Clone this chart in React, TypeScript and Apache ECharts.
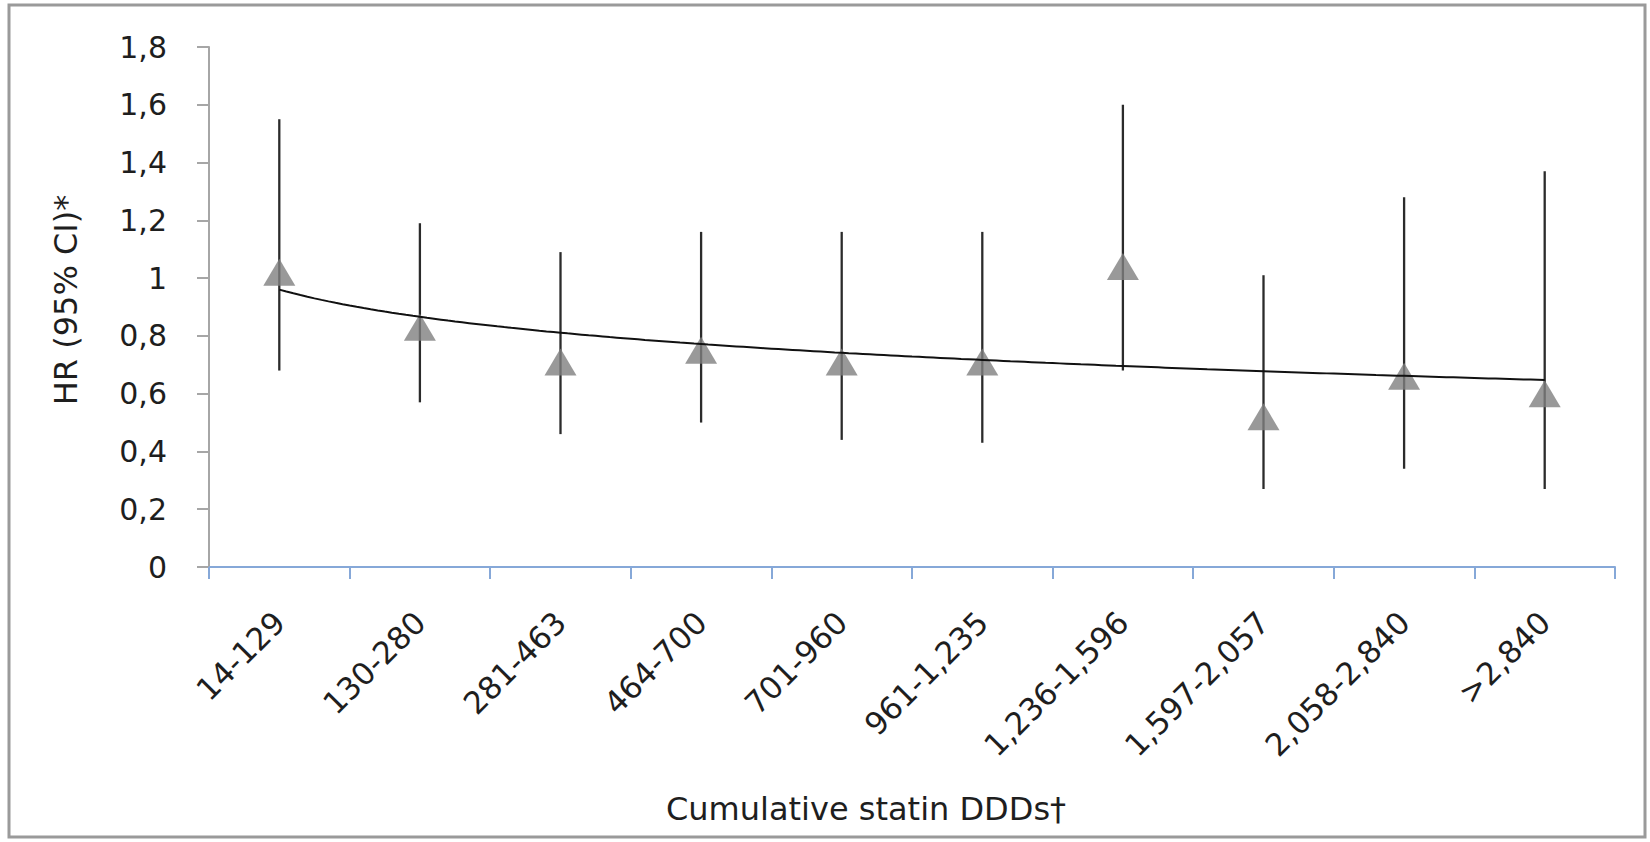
import React, { useEffect, useRef } from "react";
import * as echarts from "echarts";

const categories = [
  "14-129",
  "130-280",
  "281-463",
  "464-700",
  "701-960",
  "961-1,235",
  "1,236-1,596",
  "1,597-2,057",
  "2,058-2,840",
  ">2,840",
];
const hr = [1.02, 0.83, 0.71, 0.75, 0.71, 0.71, 1.04, 0.52, 0.66, 0.6];
const ciLow = [0.68, 0.57, 0.46, 0.5, 0.44, 0.43, 0.68, 0.27, 0.34, 0.27];
const ciHigh = [1.55, 1.19, 1.09, 1.16, 1.16, 1.16, 1.6, 1.01, 1.28, 1.37];
const yTickLabels = ["0", "0,2", "0,4", "0,6", "0,8", "1", "1,2", "1,4", "1,6", "1,8"];

const xTitle = "Cumulative statin DDDs\u2020";
const yTitle = "HR (95% CI)*";

// Logarithmic trendline (as Excel computes it) fitted to the HR values
function logFit(values: number[]) {
  const n = values.length;
  const lx = values.map((_, i) => Math.log(i + 1));
  const mx = lx.reduce((a, b) => a + b, 0) / n;
  const my = values.reduce((a, b) => a + b, 0) / n;
  let sxy = 0;
  let sxx = 0;
  for (let i = 0; i < n; i++) {
    sxy += (lx[i] - mx) * (values[i] - my);
    sxx += (lx[i] - mx) * (lx[i] - mx);
  }
  const b = sxy / sxx;
  const a = my - b * mx;
  const pts: number[][] = [];
  for (let k = 0; k <= 180; k++) {
    const x = 1 + (k * (n - 1)) / 180;
    pts.push([x, a + b * Math.log(x)]);
  }
  return pts;
}

const FONT = "DejaVu Sans";

export default function App() {
  const ref = useRef<HTMLDivElement>(null);
  useEffect(() => {
    if (!ref.current) return;
    const chart = echarts.init(ref.current, null, { renderer: "svg" });
    const trend = logFit(hr);
    chart.setOption({
      animation: false,
      backgroundColor: "#ffffff",
      grid: { left: 209, right: 35, top: 47, bottom: 275, containLabel: false },
      xAxis: [
        {
          type: "category",
          data: categories,
          boundaryGap: true,
          axisLine: { show: true, lineStyle: { color: "#86a8d8", width: 2 } },
          axisTick: { show: true, length: 12, lineStyle: { color: "#86a8d8", width: 2 } },
          axisLabel: {
            rotate: 45,
            margin: 50,
            fontFamily: FONT,
            fontSize: 31,
            color: "#1e1e1e",
            interval: 0,
          },
          splitLine: { show: false },
        },
        {
          type: "value",
          min: 0.5,
          max: 10.5,
          show: false,
        },
      ],
      yAxis: {
        type: "value",
        min: 0,
        max: 1.8,
        interval: 0.2,
        axisLine: { show: true, lineStyle: { color: "#a6a6a6", width: 2 } },
        axisTick: { show: true, length: 12, lineStyle: { color: "#a6a6a6", width: 2 } },
        axisLabel: {
          margin: 42,
          fontFamily: FONT,
          fontSize: 30,
          color: "#1e1e1e",
          formatter: (v: number) => yTickLabels[Math.round(v / 0.2)] ?? "",
        },
        splitLine: { show: false },
      },
      graphic: [
        {
          type: "rect",
          shape: { x: 9, y: 5, width: 1636, height: 832 },
          style: { fill: "none", stroke: "#9a9a9a", lineWidth: 3 },
          silent: true,
        },
        {
          type: "text",
          x: 866,
          y: 809,
          style: {
            text: xTitle,
            fontFamily: FONT,
            fontSize: 32,
            fill: "#1e1e1e",
            align: "center",
            verticalAlign: "middle",
          },
        },
        {
          type: "text",
          x: 66,
          y: 300,
          rotation: Math.PI / 2,
          style: {
            text: yTitle,
            fontFamily: FONT,
            fontSize: 32,
            fill: "#1e1e1e",
            align: "center",
            verticalAlign: "middle",
          },
        },
      ],
      series: [
        {
          type: "custom",
          name: "95% CI",
          xAxisIndex: 0,
          z: 1,
          data: categories.map((_, i) => [i, ciLow[i], ciHigh[i]]),
          encode: { x: 0, y: [1, 2] },
          renderItem: (params: any, api: any) => {
            const i = api.value(0);
            const lo = api.coord([i, api.value(1)]);
            const hi = api.coord([i, api.value(2)]);
            return {
              type: "line",
              shape: { x1: lo[0], y1: lo[1], x2: hi[0], y2: hi[1] },
              style: { stroke: "#2b2b2b", lineWidth: 2.3 },
            };
          },
        },
        {
          type: "scatter",
          name: "HR",
          xAxisIndex: 0,
          z: 2,
          symbol: "triangle",
          symbolSize: [32, 27],
          itemStyle: { color: "#808080" },
          data: hr,
        },
        {
          type: "line",
          name: "Trend",
          xAxisIndex: 1,
          z: 3,
          showSymbol: false,
          symbol: "none",
          lineStyle: { color: "#111111", width: 2 },
          data: trend,
        },
      ],
    });
    return () => chart.dispose();
  }, []);
  return (
    <div
      ref={ref}
      style={{ position: "fixed", left: 0, top: 0, width: 1650, height: 842, background: "#fff" }}
    />
  );
}
